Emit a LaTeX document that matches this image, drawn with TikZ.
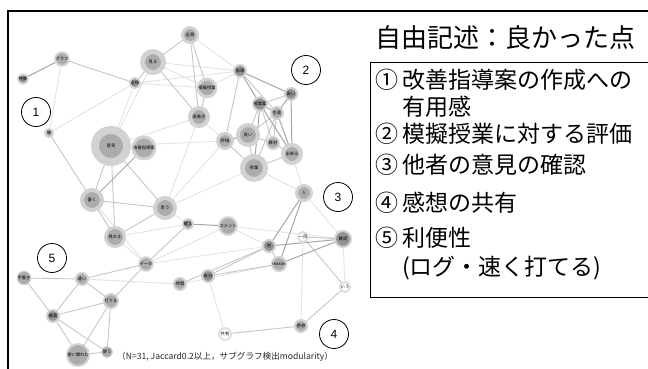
\documentclass[tikz,border=0pt]{standalone}
\usepackage{fontspec}
\newfontfamily\jp{Noto Sans CJK JP}
\newfontfamily\arialf{Liberation Sans}
\usetikzlibrary{backgrounds}
\newcommand{\nodef}{\jp\fontsize{4.3}{5}\selectfont}
\begin{document}
\begin{tikzpicture}[x=1pt,y=-1pt,
  gn/.style 2 args={circle, inner sep=0pt, minimum size={(#1+#2)*1pt}, line width={(#2-#1)*1pt}, fill=gray!65, draw=gray!35, font=\nodef, text=black},
  dkn/.style={fill=gray!85},
  whn/.style={fill=white, draw=gray!25},
  lt/.style={draw=gray!22, line width=0.9pt},
  md/.style={draw=gray!45, line width=0.9pt},
  dk/.style={draw=gray!70, line width=1pt},
  numc/.style={circle, draw=black, line width=0.8pt, minimum size=29pt, inner sep=0pt, font=\arialf\fontsize{12}{12}\selectfont},
  listtxt/.style={anchor=west, font=\jp\fontsize{23}{26}\selectfont, inner sep=0pt},
]
\useasboundingbox (0,0) rectangle (648,369);
% frame
\draw[line width=2.6pt] (8,369) -- (8,11) -- (648,11);
% nodes
\node[gn={3}{5}, dkn] (a1) at (23,79) {特徴};
\node[gn={4}{6}] (a2) at (62,59) {グラフ};
\node[gn={4}{6}, dkn] (a3) at (135,83) {全体};
\node[gn={8}{13}] (a4) at (153,62) {見る};
\node[gn={6}{9}] (a5) at (190,35) {全員};
\node[gn={5}{8}] (a6) at (207,88) {模擬授業};
\node[gn={7}{11}] (a7) at (199,117) {改善点};
\node[gn={5}{7}, dkn] (b1) at (240,71) {指導};
\node[gn={5}{7}, dkn] (b2) at (291,94) {高い};
\node[gn={5}{7}, dkn] (b3) at (260,104) {授業案};
\node[gn={5}{7}] (b4) at (277,113) {生徒};
\node[gn={6}{9}] (b5) at (225,141) {評価};
\node[gn={8}{12}] (b6) at (248,135) {良い};
\node[gn={5}{7}] (b7) at (273,143) {教材};
\node[gn={7}{11}] (b8) at (292,154) {出来る};
\node[gn={9}{14}] (b9) at (254,168) {授業};
\node[gn={3}{5}] (c1) at (49,133) {場};
\node[gn={12}{20}] (c2) at (111,146) {意見};
\node[gn={5}{8}] (c3) at (144,148) {改善指導案};
\node[gn={8}{12}] (c4) at (92,200) {書く};
\node[gn={8}{12}] (c5) at (165,208) {思う};
\node[gn={8}{11}] (c6) at (115,237) {見れる};
\node[gn={6}{9}] (d1) at (304,193) {人};
\node[gn={5}{7}, dkn] (d2) at (269,246) {他};
\node[gn={6}{8}] (d3) at (279,264) {reason};
\node[gn={4}{6}, whn] (d4) at (303,237) {一目};
\node[gn={7}{9}, dkn] (d5) at (343,239) {確認};
\node[gn={4}{6}, whn] (d6) at (345,287) {いう};
\node[gn={5}{7}] (d7) at (301,326) {感想};
\node[gn={5}{7}, whn] (d8) at (225,334) {共有};
\node[gn={4}{6}, dkn] (e1) at (188,224) {教え};
\node[gn={4}{6}] (e2) at (228,226) {コメント};
\node[gn={5}{7}, dkn] (e3) at (208,276) {自分};
\node[gn={5}{7}] (e4) at (180,284) {時間};
\node[gn={5}{7}] (e5) at (146,264) {データ};
\node[gn={4}{5}] (f1) at (24,278) {手書き};
\node[gn={5}{7}] (f2) at (82,279) {速い};
\node[gn={6}{8}] (f3) at (111,301) {打てる};
\node[gn={5}{7}, dkn] (f4) at (53,316) {検索};
\node[gn={5}{6}] (f5) at (107,352) {使う};
\node[gn={5}{7}] (f6) at (78,355) {使い慣れた};
% edges
\begin{scope}[on background layer]
\foreach \a/\b in {a3/c1, a3/c2, a3/a6, a4/c2, a4/a6, a5/b1, a7/c2, c5/a7, c5/b5, a7/b5, a6/b1, c2/b5, d4/d7, d5/d6, e2/d2, e5/d2, e4/d3, b9/d1, b8/d1, e3/d8, e2/e5, f2/e4, c6/e1, c5/e1, a4/b1, b9/c5, d1/d5, e2/d5, a3/b1, c4/e5, c6/e5, a2/c1}
  \draw[lt] (\a.center) -- (\b.center);
\foreach \a/\b in {a4/a7, a2/a3, a3/a4, a4/a5, a5/a6, a5/a7, a6/a7, c2/c3, c2/c4, c2/c5, c4/c5, c4/c6, c5/c6, c2/c6, c1/c4, b1/b4, b1/b5, b3/b6, b4/b6, b4/b7, b4/b9, b6/b9, b5/b9, b7/b8, b8/b9, b6/b7, b2/b3, b3/b7, d2/d3, d3/e3, d2/e4, d4/d5, d4/d6, d6/d7, d7/d8, e5/f3, e5/f2, f1/f2, f1/f4, f2/f3, f2/f4, f3/f4, f3/f5, f3/f6, f4/f5, f4/f6, f5/f6, e1/e5, e3/d2}
  \draw[md] (\a.center) -- (\b.center);
\foreach \a/\b in {a1/a2, c3/c4, b1/b2, b1/b3, b2/b4, b3/b8, b4/b8, b5/b6, b3/b9, d1/d2, d1/d3, e1/e2, d2/d5, d3/d5, b2/b8, b3/b4}
  \draw[dk] (\a.center) -- (\b.center);
\end{scope}
% circled numbers
\node[numc] (n1) at (36,112) {1};
\node[numc] (n2) at (306,70) {2};
\node[numc] (n3) at (338,197) {3};
\node[numc] (n4) at (334,334) {4};
\node[numc] (n5) at (52,258) {5};
% caption
\node[anchor=west, inner sep=0pt, font=\jp\fontsize{8.6}{9}\selectfont, text=black!85] (cap) at (117,357) {（N=31, Jaccard0.2以上，サブグラフ検出modularity）};
% right panel
\node[anchor=west, inner sep=0pt, font=\jp\fontsize{26}{28}\selectfont] (title) at (375,38) {自由記述：良かった点};
\draw[line width=0.8pt] (648,62) -- (370,62) -- (370,297) -- (648,297);
\node[listtxt] (l1) at (375,80) {①\,改善指導案の作成への};
\node[listtxt] (l2) at (402,107) {有用感};
\node[listtxt] (l3) at (375,134) {②\,模擬授業に対する評価};
\node[listtxt] (l4) at (375,165) {③\,他者の意見の確認};
\node[listtxt] (l5) at (375,203) {④\,感想の共有};
\node[listtxt] (l6) at (375,238) {⑤\,利便性};
\node[listtxt] (l7) at (402,268) {(ログ・速く打てる)};
\end{tikzpicture}
\end{document}
